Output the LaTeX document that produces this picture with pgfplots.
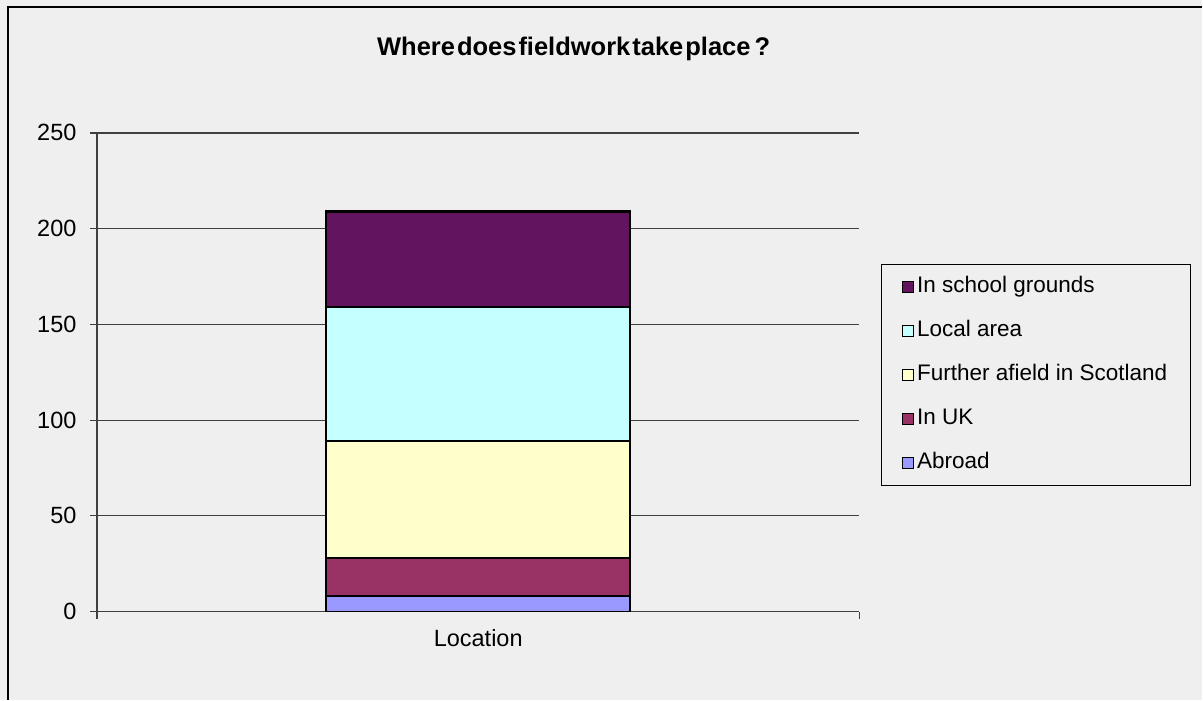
\documentclass[border=0pt]{standalone}
\usepackage{fontspec}
\setmainfont{Liberation Sans}
\usepackage{pgfplots}
\pgfplotsset{compat=1.18}
\definecolor{bg}{HTML}{EFEFEF}
\definecolor{cAbroad}{HTML}{9999FF}
\definecolor{cUK}{HTML}{993366}
\definecolor{cFurther}{HTML}{FFFFCC}
\definecolor{cLocal}{HTML}{C6FFFF}
\definecolor{cSchool}{HTML}{63145F}
\begin{document}
\begin{tikzpicture}[x=1pt,y=1pt]
\fill[bg] (0,0) rectangle (1203,700);
\draw[black, line width=1.5pt] (8,0) -- (8,693) -- (1203,693);
\node[font=\fontsize{25.5}{30}\selectfont\bfseries] at (574,651) {Where\hspace{2pt}does\hspace{2pt}fieldwork\hspace{2pt}take\hspace{2pt}place\hspace{4pt}?};
\begin{axis}[
  at={(97pt,88pt)}, anchor=south west,
  scale only axis, width=763pt, height=479pt,
  xmin=0, xmax=2, ymin=0, ymax=250,
  ybar stacked, bar width=304pt,
  axis x line*=bottom, axis y line*=left,
  axis line style={-, black!75, line width=1.2pt},
  ytick={0,50,...,250},
  ymajorgrids, grid style={black!75, line width=1.2pt},
  tick style={black!75, line width=1.2pt},
  tick align=outside, major tick length=7pt,
  xtick={0,2}, xticklabels={},
  extra x ticks={1}, extra x tick labels={Location},
  extra x tick style={major tick length=0pt, grid=none},
  xticklabel style={yshift=-14pt},
  ticklabel style={font=\fontsize{23.5}{27}\selectfont},
  yticklabel style={xshift=-10pt},
  /pgf/number format/assume math mode=true,
  reverse legend,
  legend cell align=left,
  legend style={at={(1.0288,0.7265)}, anchor=north west,
    draw=black, line width=1pt, fill=bg,
    font=\fontsize{22.5}{26}\selectfont,
    nodes={text height=16pt, text depth=5pt, inner ysep=0pt, inner xsep=3pt},
    row sep=23pt, inner ysep=12pt, inner xsep=20pt},
  legend image code/.code={\draw[#1,draw=black,line width=1.2pt] (0pt,-5.5pt) rectangle (11pt,5.5pt);},
]
\addplot[fill=cAbroad, draw=black, line width=2.2pt] coordinates {(1,8)};
\addplot[fill=cUK, draw=black, line width=2.2pt] coordinates {(1,20)};
\addplot[fill=cFurther, draw=black, line width=2.2pt] coordinates {(1,61)};
\addplot[fill=cLocal, draw=black, line width=2.2pt] coordinates {(1,70)};
\addplot[fill=cSchool, draw=black, line width=2.2pt] coordinates {(1,50)};
\legend{Abroad, In UK, Further afield in Scotland, Local area, In school grounds}
\end{axis}
\end{tikzpicture}
\end{document}
